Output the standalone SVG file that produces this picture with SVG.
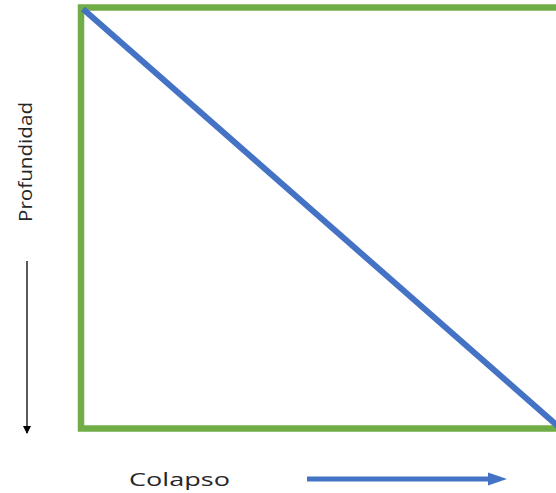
<svg xmlns="http://www.w3.org/2000/svg" width="556" height="493" viewBox="0 0 556 493">
  <style>
    .lbl { font-family: "Open Sans", "Liberation Sans", sans-serif; fill: #262626; }
  </style>
  <defs>
    <marker id="blackHead" markerWidth="8" markerHeight="8" refX="7" refY="4" orient="auto" markerUnits="userSpaceOnUse">
      <path d="M0,0 L8,4 L0,8 Z" fill="#000"/>
    </marker>
  </defs>
  <rect width="556" height="493" fill="#fff"/>
  <g id="frame">
    <polyline points="560,7.5 81,7.5 81,428.5 560,428.5" fill="none" stroke="#70AD47" stroke-width="6.5"/>
  </g>
  <g id="diagonal">
    <line x1="83" y1="9" x2="560" y2="428" stroke="#4472C4" stroke-width="6"/>
  </g>
  <g id="connectors">
    <line x1="27" y1="261" x2="27" y2="433" stroke="#222" stroke-width="1.5" marker-end="url(#blackHead)"/>
    <line x1="307" y1="479" x2="490" y2="479" stroke="#4472C4" stroke-width="5"/>
    <path d="M488,472.5 L507,479 L488,485.5 Z" fill="#4472C4"/>
  </g>
  <g id="label-profundidad">
    <text class="lbl" transform="translate(32,162) rotate(-90)" text-anchor="middle" font-size="18" textLength="120" lengthAdjust="spacingAndGlyphs">Profundidad</text>
  </g>
  <g id="label-colapso">
    <text class="lbl" x="129" y="486" font-size="19" textLength="101" lengthAdjust="spacingAndGlyphs">Colapso</text>
  </g>
</svg>
